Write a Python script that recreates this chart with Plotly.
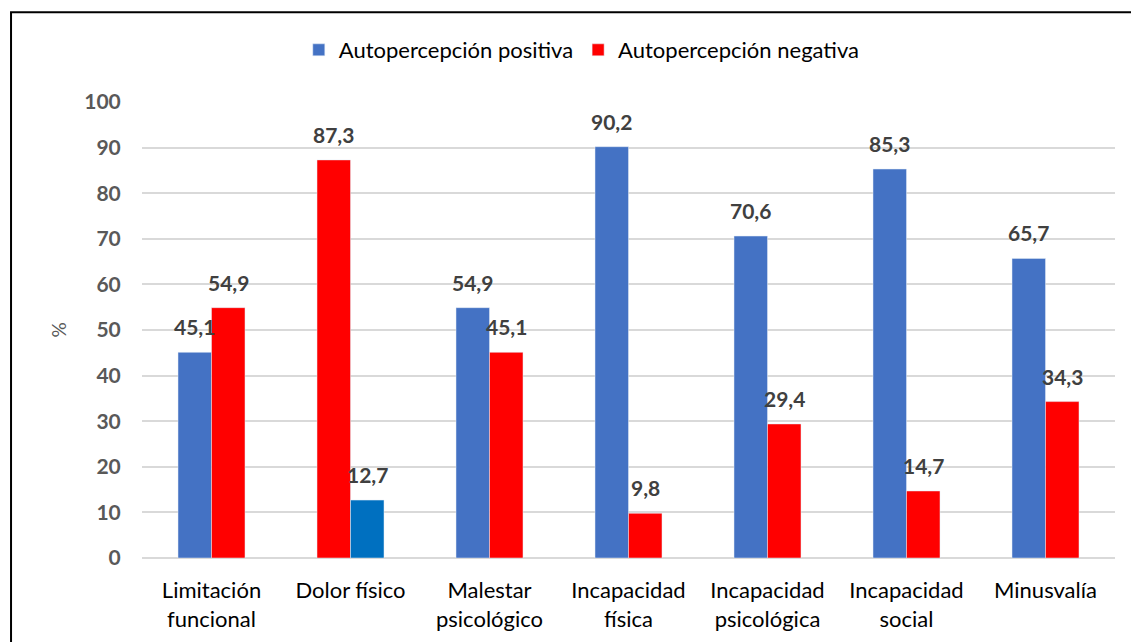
import plotly.graph_objects as go

categories = [
    "Limitación<br>funcional",
    "Dolor físico",
    "Malestar<br>psicológico",
    "Incapacidad<br>física",
    "Incapacidad<br>psicológica",
    "Incapacidad<br>social",
    "Minusvalía",
]
# left bar of each pair / right bar of each pair (Dolor físico is drawn swapped in the source)
left_values = [45.1, 87.3, 54.9, 90.2, 70.6, 85.3, 65.7]
right_values = [54.9, 12.7, 45.1, 9.8, 29.4, 14.7, 34.3]
left_colors = ["#4472C4", "#FF0000", "#4472C4", "#4472C4", "#4472C4", "#4472C4", "#4472C4"]
right_colors = ["#FF0000", "#0070C0", "#FF0000", "#FF0000", "#FF0000", "#FF0000", "#FF0000"]
y_ticks = list(range(0, 101, 10))

FONT = "Lato, Open Sans, sans-serif"

fig = go.Figure()
fig.add_trace(go.Bar(x=categories, y=left_values, name="Autopercepción positiva",
                     marker=dict(color=left_colors), hoverinfo="x+y"))
fig.add_trace(go.Bar(x=categories, y=right_values, name="Autopercepción negativa",
                     marker=dict(color=right_colors), hoverinfo="x+y"))

# value labels sit a little above each bar, like the Excel original
annotations = []
for cat, lv, rv in zip(categories, left_values, right_values):
    for val, shift in ((lv, -17), (rv, 17)):
        annotations.append(dict(
            x=cat, y=val, xref="x", yref="y", text=f"<b>{val:.1f}</b>".replace(".", ","),
            showarrow=False, xshift=shift, yshift=11, yanchor="bottom",
            font=dict(family=FONT, size=21, color="#404040"),
        ))

fig.update_layout(
    width=1131, height=642,
    margin=dict(l=142, r=16, t=102, b=84),
    paper_bgcolor="white", plot_bgcolor="white",
    barmode="group", bargap=0.518, bargroupgap=0,
    font=dict(family=FONT, color="#000000"),
    showlegend=True,
    legend=dict(orientation="h", x=0.452, xanchor="center", y=1.114, yanchor="middle",
                bgcolor="rgba(0,0,0,0)", font=dict(family=FONT, size=22, color="#000000"),
                itemwidth=30),
    xaxis=dict(tickfont=dict(family=FONT, size=22, color="#000000"), showline=False,
               ticks="outside", ticklen=13, tickcolor="rgba(0,0,0,0)", showgrid=False,
               automargin=False),
    yaxis=dict(range=[0, 100], tickvals=y_ticks, showgrid=True, gridcolor="#D9D9D9",
               gridwidth=2, zeroline=True, zerolinecolor="#D9D9D9", zerolinewidth=2,
               ticks="outside", ticklen=16, tickcolor="rgba(0,0,0,0)", automargin=False,
               tickfont=dict(family=FONT, size=21, color="#595959", weight="bold"),
               title=dict(text="%", font=dict(family=FONT, size=19, color="#595959"), standoff=12)),
    annotations=annotations,
    shapes=[dict(type="rect", xref="paper", yref="paper", x0=-0.1346, x1=1.05,
                 y0=-0.3, y1=1.197, line=dict(color="#000000", width=2), layer="below")],
)

fig.write_html("out.html", config={"displayModeBar": False},
               post_script="document.body.style.margin='0';")
